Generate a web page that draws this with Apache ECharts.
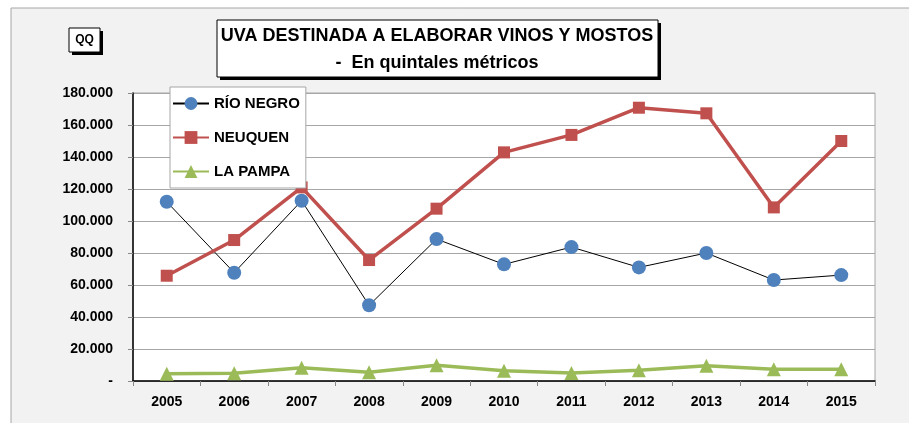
<!DOCTYPE html>
<html>
<head>
<meta charset="utf-8">
<script src="https://cdn.jsdelivr.net/npm/echarts@6/dist/echarts.min.js"></script>
<style>
  html, body { margin: 0; padding: 0; background: #fff; }
  #chart { width: 909px; height: 423px; }
</style>
</head>
<body>
<div id="chart"></div>
<script>
const years = ['2005', '2006', '2007', '2008', '2009', '2010', '2011', '2012', '2013', '2014', '2015']
const rioNegro = [112000, 67700, 112700, 47300, 88700, 72900, 83700, 71000, 80000, 63100, 66200]
const neuquen = [65800, 88100, 121000, 75600, 107700, 142900, 153800, 170800, 167300, 108500, 150000]
const laPampa = [4600, 4800, 8300, 5400, 9800, 6400, 5000, 6700, 9600, 7300, 7300]
const yLabels = ['-', '20.000', '40.000', '60.000', '80.000', '100.000', '120.000', '140.000', '160.000', '180.000']

const font = "'Liberation Sans', Arial, sans-serif"
const chart = echarts.init(document.getElementById('chart'))

const option = {
  animation: false,
  textStyle: { fontFamily: font },
  graphic: [
    { type: 'rect', z: -10, shape: { x: 11, y: 8, width: 920, height: 430 },
      style: { fill: '#f2f2f2', stroke: '#a6a6a6', lineWidth: 1 } },
    // QQ box
    { type: 'rect', shape: { x: 72, y: 31, width: 31, height: 24 }, style: { fill: '#000' } },
    { type: 'rect', shape: { x: 69, y: 28, width: 31, height: 24 },
      style: { fill: '#fff', stroke: '#000', lineWidth: 1 } },
    { type: 'text', x: 84.5, y: 40,
      style: { text: 'QQ', fill: '#000', font: 'bold 12px ' + font, textAlign: 'center', textVerticalAlign: 'middle' } },
    // title box
    { type: 'rect', shape: { x: 220, y: 23, width: 441, height: 57 }, style: { fill: '#000' } },
    { type: 'rect', shape: { x: 217, y: 20, width: 441, height: 57 },
      style: { fill: '#fff', stroke: '#000', lineWidth: 1 } },
    { type: 'text', x: 437, y: 36,
      style: { text: 'UVA DESTINADA A ELABORAR VINOS Y MOSTOS', fill: '#000',
        font: 'bold 18px ' + font, textAlign: 'center', textVerticalAlign: 'middle' } },
    { type: 'text', x: 437, y: 63,
      style: { text: '-  En quintales métricos', fill: '#000',
        font: 'bold 18px ' + font, textAlign: 'center', textVerticalAlign: 'middle' } }
  ],
  legend: {
    orient: 'vertical',
    left: 170,
    top: 87,
    backgroundColor: '#fff',
    borderColor: '#a6a6a6',
    borderWidth: 1,
    padding: [9, 6, 9, 2],
    itemGap: 19,
    itemWidth: 36,
    itemHeight: 16,
    textStyle: { fontFamily: font, fontWeight: 'bold', fontSize: 15, color: '#000' },
    data: ['RÍO NEGRO', 'NEUQUEN', 'LA PAMPA']
  },
  grid: {
    left: 133, right: 34, top: 93, bottom: 42,
    show: true, backgroundColor: '#fff', borderColor: '#a6a6a6', borderWidth: 1
  },
  xAxis: {
    type: 'category',
    data: years,
    boundaryGap: true,
    axisLine: { lineStyle: { color: '#000', width: 1.5 } },
    axisTick: { show: true, length: 5, lineStyle: { color: '#888' } },
    axisLabel: { color: '#000', fontWeight: 'bold', fontSize: 14, margin: 14 }
  },
  yAxis: {
    type: 'value',
    min: 0,
    max: 180000,
    interval: 20000,
    axisLine: { show: true, lineStyle: { color: '#000', width: 1.5 } },
    axisTick: { show: true, length: 5, lineStyle: { color: '#888' } },
    splitLine: { lineStyle: { color: '#a6a6a6', width: 1 } },
    axisLabel: { color: '#000', fontWeight: 'bold', fontSize: 14, margin: 20,
      formatter: v => yLabels[Math.round(v / 20000)] }
  },
  series: [
    {
      name: 'RÍO NEGRO', type: 'line', data: rioNegro,
      symbol: 'circle', symbolSize: 14,
      lineStyle: { color: '#000', width: 1 },
      itemStyle: { color: '#4f81bd' }
    },
    {
      name: 'NEUQUEN', type: 'line', data: neuquen,
      symbol: 'rect', symbolSize: 12,
      lineStyle: { color: '#c0504d', width: 3.5 },
      itemStyle: { color: '#c0504d' }
    },
    {
      name: 'LA PAMPA', type: 'line', data: laPampa,
      symbol: 'triangle', symbolSize: 14,
      lineStyle: { color: '#9bbb59', width: 3.5 },
      itemStyle: { color: '#9bbb59' }
    }
  ]
}
chart.setOption(option)
</script>
</body>
</html>
